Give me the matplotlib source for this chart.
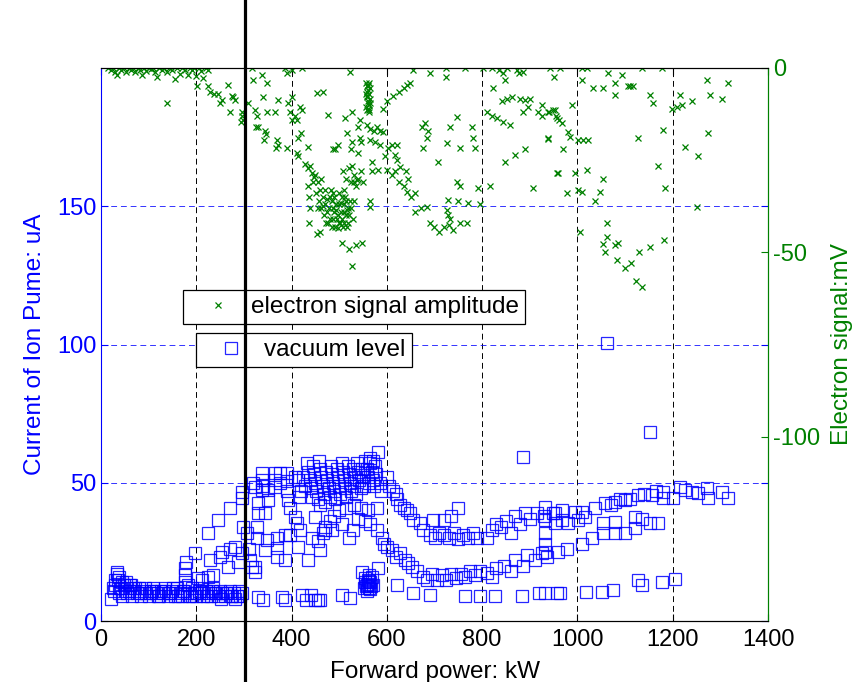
import numpy as np
import matplotlib
matplotlib.use('Agg')
import matplotlib.pyplot as plt

plt.rcParams['font.family'] = ['Liberation Sans', 'DejaVu Sans']
plt.rcParams['axes.unicode_minus'] = False

# vacuum level (ion pump current, uA) vs forward power (kW)
vac_low_band = [(22, 8), (28, 11), (30, 13), (35, 15), (38, 10), (42, 12), (45, 9), (50, 11),
                (52, 14), (55, 10), (60, 12), (65, 9), (70, 11), (75, 10), (80, 12), (85, 9),
                (90, 11), (95, 10), (100, 9), (105, 11), (110, 12), (115, 10), (120, 9), (125, 11),
                (130, 10), (135, 12), (140, 9), (145, 10), (150, 11), (155, 9), (160, 12), (165, 10),
                (170, 9), (175, 11), (180, 10), (185, 9), (190, 12), (195, 10), (200, 9), (205, 11),
                (210, 10), (215, 9), (220, 11), (225, 10), (230, 9), (235, 12), (240, 10), (245, 9),
                (250, 11), (255, 10), (260, 9), (265, 10), (270, 11), (275, 9), (280, 10), (285, 9),
                (290, 11), (295, 10),
                (25, 12), (33, 17), (40, 12), (48, 13), (58, 11), (63, 13), (72, 12), (82, 10),
                (92, 12), (102, 10), (112, 11), (122, 9), (132, 11), (142, 10), (152, 12), (162, 9),
                (172, 11), (182, 13), (192, 9), (202, 10), (212, 12), (222, 9), (232, 11), (242, 10),
                (252, 8), (262, 10), (272, 9), (282, 8), (292, 9),
                (34, 17.7), (30, 14.8), (45, 14), (60, 13), (38, 16),
                (176, 14), (176, 16.5), (176, 19), (178, 21.5), (204, 15.5), (212, 14.8),
                (225, 16), (235, 16.6)]
vac_rise = [(197, 24.6), (225, 31.8), (229, 22), (250, 23), (246, 36.5), (271, 41), (254, 25),
            (270, 26), (281, 26.8), (296, 44.5), (296, 46.7), (267, 19.5), (288, 21.3), (298, 34),
            (296, 24.6), (306, 32), (310, 26), (313, 22), (317, 19.5), (320, 50), (323, 48.5),
            (323, 19.5), (323, 17.7), (330, 39), (344, 39), (330, 42.7), (327, 34), (327, 30),
            (338, 53.5), (338, 51), (338, 49), (338, 47.4), (344, 25.7), (348, 29.3), (350, 43.8),
            (350, 47.4), (365, 53.5), (365, 51), (365, 48.5), (369, 30), (369, 26.5), (369, 23),
            (376, 53.5), (376, 50), (390, 53.5), (390, 50.5), (390, 47), (386, 22), (392, 43.8),
            (397, 41), (386, 31), (397, 31), (407, 52), (414, 51), (407, 37.6), (411, 35.4),
            (414, 26.8), (418, 33)]
vac_peak = [(432, 57), (435, 54), (438, 51), (440, 48), (442, 45), (445, 56), (448, 53), (450, 50),
            (452, 47), (455, 44), (458, 58), (460, 55), (462, 52), (465, 49), (468, 46), (470, 43),
            (472, 54), (475, 51), (478, 48), (480, 45), (482, 56), (485, 53), (488, 50), (490, 47),
            (492, 44), (495, 55), (498, 52), (500, 49), (502, 46), (505, 57), (508, 54), (510, 51),
            (512, 48), (515, 45), (518, 56), (520, 53), (522, 50), (525, 47), (528, 55), (530, 52),
            (532, 49), (535, 46), (538, 57), (540, 54), (542, 51), (545, 48), (548, 55), (550, 52),
            (552, 49), (555, 58), (558, 55), (560, 52), (562, 50), (565, 57), (568, 54), (570, 51),
            (572, 49), (575, 56), (578, 53), (581, 61), (564, 59), (571, 58), (585, 50), (588, 47),
            (425, 52), (428, 49), (420, 47), (415, 45), (460, 42)]
vac_mid_left = [(449, 37.6), (470, 34), (434, 22), (443, 30), (455, 29), (470, 33), (485, 33),
                (466, 32), (480, 36), (500, 40), (515, 41), (530, 42), (545, 41), (560, 40),
                (580, 41), (529, 33), (555, 36), (579, 33), (460, 25.7), (490, 38), (505, 35),
                (520, 30), (540, 37), (565, 35)]
vac_fall = [(600, 52), (605, 49), (612, 47), (620, 46), (622, 44), (628, 42), (635, 41), (642, 40),
            (649, 39), (655, 36.5), (669, 35.4), (600, 26.8), (611, 25.7), (620, 23), (628, 24.6),
            (638, 22), (645, 21), (653, 19.5), (590, 30), (595, 28)]
vac_mid_band = [(676, 33), (690, 31), (700, 30), (710, 32), (720, 31), (730, 30), (740, 32),
                (750, 29.5), (760, 31), (770, 30), (780, 32), (789, 30), (697, 36.5), (720, 36.5),
                (735, 38), (749, 41), (810, 30), (820, 33), (830, 35), (840, 34), (850, 36),
                (860, 32), (870, 38), (880, 35), (890, 39), (900, 37), (915, 39), (930, 38),
                (949, 39),
                (932, 36.5), (953, 35.4), (967, 36.5), (981, 35.4), (1002, 36.5), (1016, 37.6),
                (1054, 35.4), (1079, 35.7), (1079, 31.8), (1100, 31.8), (1121, 37.6), (1135, 37),
                (1121, 33.6), (1152, 35.4), (1170, 35.4),
                (932, 31.8), (932, 28), (932, 25), (960, 25), (978, 26), (1009, 28), (1030, 30),
                (1054, 31.8)]
vac_low_arc = [(663, 18), (675, 16), (685, 15), (695, 17), (705, 15), (715, 16.5), (725, 14.8),
               (735, 17), (745, 15.5), (755, 17), (765, 16), (775, 18), (785, 16.5), (796, 18),
               (810, 17.4), (820, 16), (830, 19), (845, 20), (860, 18), (870, 22), (885, 20),
               (895, 24), (910, 22), (925, 24.6), (936, 23)]
vac_blob = [(552, 12), (555, 14), (558, 13), (560, 15), (562, 12), (565, 14), (568, 16), (558, 11),
            (562, 16.5), (555, 15.5), (565, 11.5), (570, 13), (560, 13.5), (563, 14.5), (556, 12.5),
            (566, 12.8), (548, 17.7), (581, 19), (621, 13)]
vac_floor = [(330, 8.7), (340, 7.6), (380, 8.7), (386, 7.6), (422, 9.4), (430, 7.6), (440, 9.4),
             (449, 7.6), (455, 7.6), (460, 7.6), (506, 9.4), (523, 8.3), (655, 10), (690, 9.4),
             (764, 9), (795, 9), (827, 9), (883, 9), (920, 10), (957, 10),
             (932, 10), (963, 10), (1019, 10.5), (1051, 10.5), (1075, 11.2), (1128, 14.8),
             (1135, 13), (1177, 14), (1205, 15.2)]
vac_high_right = [(932, 41.2), (953, 39), (967, 40), (995, 39.5), (1009, 39.5), (1037, 40.8),
                  (1058, 42.7), (1079, 43), (1100, 43.8), (1128, 45.6), (1156, 45.6), (1180, 46.7),
                  (1180, 44.5), (1201, 44.5), (1215, 48.5), (1240, 46.7), (1254, 46.3), (1271, 48),
                  (1275, 44.5), (1303, 46.7), (1317, 44.5), (1070, 42), (1090, 44), (1110, 44),
                  (1140, 46), (1165, 47), (1225, 47.5)]
vac_outliers = [(1062, 100.5), (1152, 68.4), (886, 59.3)]

# electron signal amplitude (mV) vs forward power (kW)
sig_top = [(15, 0), (20, -0.5), (25, 0), (30, -1), (34, -1.9), (38, 0), (42, -0.5), (48, 0),
           (52, -1), (58, 0), (62, -0.5), (68, 0), (72, -1.2), (78, 0), (82, -0.5), (86, -1.9),
           (90, 0), (95, -0.8), (100, 0), (105, -0.4), (110, 0), (114, -1.2), (118, -2.5),
           (122, 0), (128, -0.5), (132, 0), (138, -1), (142, 0), (148, -0.5), (155, -3), (160, 0),
           (165, -1.5), (170, 0), (176, -0.6), (182, -1.8), (186, 0), (190, -0.5), (195, 0),
           (200, -2.2), (205, 0), (210, -0.8), (215, -2.8), (220, 0), (225, -0.5), (139, -9.5),
           (317, 0), (338, -2), (348, -4), (386, 0), (390, -1.4), (400, -0.5), (422, 0), (319, -3.3)]
sig_drop = [(201, -5), (225, -5), (229, -6.5), (237, -7), (245, -7), (254, -8.7), (250, -9.5),
            (267, -4.6), (275, -7.5), (281, -8.7), (278, -8), (271, -12), (296, -12), (296, -13),
            (298, -14), (294, -14.6), (308, -9.5), (323, -11.5), (327, -13), (325, -16), (330, -16),
            (340, -7.9), (344, -17), (346, -18), (342, -19.5), (348, -12), (365, -12), (369, -19.5),
            (371, -21), (367, -21.7), (372, -8.7), (390, -21.7), (393, -9.5), (396, -12), (400, -14),
            (401, -7.8), (408, -13), (411, -14), (418, -10.5), (422, -11.4), (420, -17.6),
            (414, -19), (411, -23), (413, -24), (434, -21.4), (453, -6.8), (466, -6.5),
            (476, -12.7), (487, -22)]
sig_dip = [(428, -26), (435, -27), (443, -28.5), (438, -26.5), (450, -29), (455, -31), (460, -33),
           (465, -35), (470, -37), (475, -39), (480, -41), (485, -43), (452, -34), (458, -36),
           (462, -38), (468, -40), (472, -42), (478, -38), (484, -36), (488, -34), (490, -39),
           (495, -41), (500, -37), (505, -35), (510, -39), (515, -36), (520, -40), (525, -38),
           (500, -42), (492, -43), (508, -43), (518, -42), (528, -41), (434, -32), (436, -35),
           (438, -38), (436, -42), (453, -45), (460, -44.5), (481, -35), (502, -42), (510, -33),
           (530, -36), (508, -28), (515, -30), (520, -27), (525, -31), (530, -29), (535, -32),
           (540, -30), (545, -28), (550, -31), (527, -26.5)]
sig_dip_core = [(482, -33), (486, -38), (490, -35), (494, -37), (497, -40), (500, -34), (503, -39),
                (506, -41), (509, -37), (512, -35), (514, -40), (516, -43), (519, -38), (522, -36),
                (488, -41), (493, -38.5), (498, -43.5), (504, -36.5), (511, -42), (517, -38.5),
                (462, -30), (466, -37.5), (470, -33), (474, -35.5), (477, -42), (456, -38),
                (445, -31), (448, -29.5), (532, -31), (537, -30.5)]
sig_stripe = [(556, -4), (558, -5), (560, -6), (562, -7), (559, -8), (561, -9), (563, -10),
              (560, -11), (562, -12), (558, -6.5), (564, -8.5), (557, -10.5), (565, -5.5),
              (560, -4.5), (563, -11.5), (559, -7.5), (561, -5), (557, -7), (564, -9.5),
              (558, -11.5), (562, -4.2), (560, -9.5)]
sig_mid = [(523, -1), (512, -13.6), (527, -12), (544, -14), (540, -16), (558, -15.5), (565, -16.5),
           (572, -17), (580, -16), (586, -17), (592, -17.4), (544, -19), (546, -20), (516, -17.6),
           (527, -20), (525, -22), (540, -23), (491, -22), (498, -21), (565, -19.5), (575, -20),
           (586, -21), (602, -21.7), (610, -21), (621, -21), (596, -24), (617, -23.6), (622, -25),
           (628, -26.8), (569, -25.5), (569, -28), (581, -27.7), (600, -27.7), (617, -28),
           (611, -29), (625, -31), (635, -32), (645, -30), (640, -28), (642, -33.6), (650, -35),
           (659, -34), (565, -36), (565, -37.7), (506, -47.5), (520, -49), (535, -48),
           (548, -47.5), (527, -53.7),
           (592, -11), (600, -9), (612, -7.5), (625, -6.5), (635, -5.5), (643, -4.6), (649, -4)]
sig_right = [(655, -0.5), (690, -1.4), (724, 0), (724, -2.4), (764, 0), (747, -13.3), (673, -16),
             (680, -15), (686, -17), (732, -16), (684, -19), (676, -21.7), (726, -20.3),
             (753, -21.7), (778, -16), (780, -19), (785, -21.7), (707, -25.5), (747, -31),
             (753, -32), (791, -32.5), (816, -32), (728, -35.8), (750, -36), (770, -36.6),
             (795, -37), (659, -39), (672, -38), (684, -37.7), (726, -38.5), (729, -40), (732, -41),
             (690, -42), (700, -43), (710, -44.5), (720, -43), (730, -42.5), (739, -44), (753, -42),
             (768, -42), (802, 0), (820, 0), (835, -0.5), (852, 0), (844, -1.4), (848, -3.3),
             (873, -0.5), (878, -1.4), (886, -1), (823, -5.4), (842, -9), (852, -8.5), (862, -8),
             (879, -8.4), (890, -8.7), (900, -8.5), (810, -12), (820, -13), (831, -13.6),
             (844, -14.6), (858, -15.5), (886, -12), (896, -10.6), (917, -12), (925, -13),
             (940, -12), (953, -11.4), (926, -10), (938, -19), (957, -13.6), (957, -28.5),
             (848, -25.5), (870, -23.5), (890, -22), (907, -32.5)]
sig_far = [(942, 0), (963, 0), (950, -2.4), (1010, 0), (1020, 0), (1135, 0), (1178, 0),
           (1010, -3.3), (1064, -1.4), (1033, -5.4), (1054, -5.4), (1079, -4), (1094, -2),
           (1079, -7.3), (1106, -5), (1110, -4.8), (1117, -5), (1152, -7.3), (1159, -9.5),
           (1199, -11), (1209, -10.5), (1219, -10), (1240, -9), (1272, -3.3), (1316, -4),
           (1278, -7.3), (1303, -8.4), (1215, -7.3), (989, -10), (938, -12), (948, -11.5),
           (955, -13), (962, -14), (968, -15), (980, -17.4), (985, -18.7), (938, -19.3),
           (1001, -19.5), (1012, -19.5), (1022, -19.5), (970, -22), (1127, -19), (1180, -16.8),
           (1274, -17.6), (1226, -21.4), (1253, -24), (959, -28.5), (995, -28.5), (1020, -27.7),
           (1054, -30), (1169, -26.6), (978, -34), (1001, -33), (1010, -33.6), (1048, -33.6),
           (1037, -36), (1184, -32.5), (1251, -37.7), (1005, -44.5), (1062, -42), (1062, -45.8),
           (1054, -47.7), (1058, -50), (1079, -48), (1085, -47.5), (1083, -52), (1100, -54.2),
           (1112, -53), (1129, -50), (1152, -48.5), (1182, -46.6), (1123, -57.8), (1135, -59.4)]

marker_power = 302

vac = np.array(vac_low_band + vac_rise + vac_peak + vac_mid_left + vac_fall + vac_mid_band
               + vac_low_arc + vac_blob + vac_floor + vac_high_right + vac_outliers)
sig = np.array(sig_top + sig_drop + sig_dip + sig_dip_core + sig_stripe + sig_mid
               + sig_right + sig_far)

green = (0, 0.5, 0)
blue = (0, 0, 1)
dash = (0, (6, 4))

fig = plt.figure(figsize=(8.57, 6.82), dpi=100)
ax1 = fig.add_axes([101 / 857, 61 / 682, 667 / 857, 553 / 682])
ax2 = ax1.twinx()

h_vac, = ax1.plot(vac[:, 0], vac[:, 1], 's', mfc='none', mec=blue, ms=8, mew=0.9, alpha=0.85)
h_sig, = ax2.plot(sig[:, 0], sig[:, 1], 'x', color=green, ms=4.3, mew=0.9)

ax1.set_xlim(0, 1400)
ax1.set_ylim(0, 200)
ax2.set_ylim(-150, 0)
ax1.set_xticks(range(0, 1401, 200))
ax1.set_yticks([0, 50, 100, 150])
ax2.set_yticks([-100, -50, 0])

ax1.set_axisbelow(True)
ax1.xaxis.grid(True, color='k', ls=dash, lw=0.7)
ax1.yaxis.grid(True, color=blue, ls=dash, lw=0.7, alpha=0.8)

ax1.tick_params(axis='x', direction='in', top=True, length=5, labelsize=17, colors='k', pad=6)
ax1.tick_params(axis='y', direction='in', right=True, length=5, labelsize=17, colors=blue)
ax2.tick_params(axis='y', direction='in', length=5, labelsize=17, colors=green)

ax1.spines['left'].set_color(blue)
ax1.spines['right'].set_color(green)
ax2.spines['right'].set_color(green)
ax2.spines['left'].set_visible(False)

ax1.set_xlabel('Forward power: kW', fontsize=17.5, labelpad=7)
ax1.set_ylabel('Current of Ion Pume: uA', fontsize=17.5, color=blue, labelpad=8)
ax2.set_ylabel('Electron signal:mV', fontsize=17.5, color=green, labelpad=8)

leg_kw = dict(loc='upper left', bbox_transform=fig.transFigure, fancybox=False, edgecolor='k',
              framealpha=1, borderaxespad=0, borderpad=0.25, handlelength=2.4,
              handletextpad=0.15, fontsize=17.5)
leg2 = ax2.legend([h_sig], ['electron signal amplitude'],
                  bbox_to_anchor=(183 / 857, 1 - 290 / 682), **leg_kw)
leg1 = ax1.legend([h_vac], ['vacuum level'],
                  bbox_to_anchor=(196 / 857, 1 - 333 / 682), **leg_kw)
for lg in (leg1, leg2):
    lg.get_frame().set_linewidth(0.9)

ax2.axvline(marker_power, ymin=-0.12, ymax=1.13, color='k', lw=2.3, clip_on=False, zorder=10)

fig.savefig('out.png', dpi=100)
